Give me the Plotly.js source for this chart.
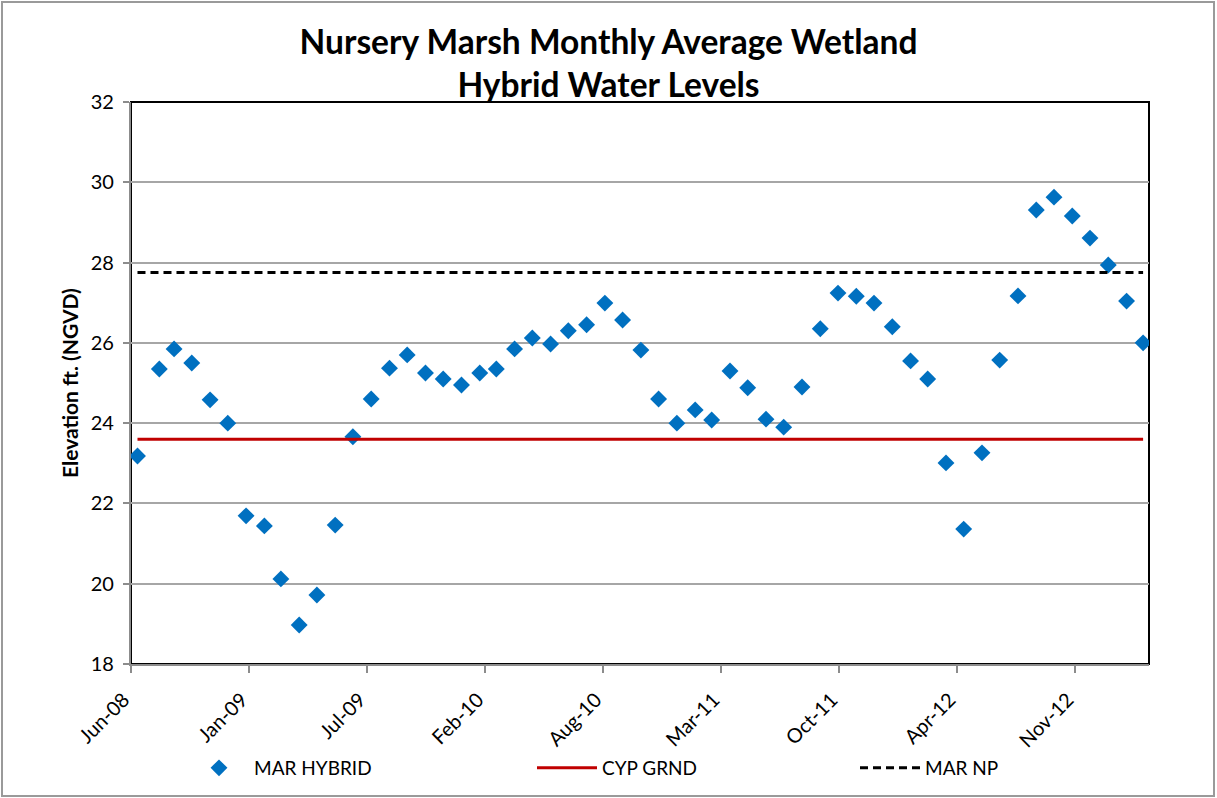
<!DOCTYPE html>
<html>
<head>
<meta charset="utf-8">
<script src="https://cdn.plot.ly/plotly-3.0.1.min.js"></script>
<style>
  body { margin: 0; background: #fff; }
  #chart { width: 1217px; height: 798px; }
</style>
</head>
<body>
<div id="chart"></div>
<script>
// monthly sample dates (first two are irregular in the source sheet)
const dates = [
  '2008-07-01', '2008-08-07', '2008-09-01', '2008-10-01', '2008-11-01', '2008-12-01',
  '2009-01-01', '2009-02-01', '2009-03-01', '2009-04-01', '2009-05-01', '2009-06-01',
  '2009-07-01', '2009-08-01', '2009-09-01', '2009-10-01', '2009-11-01', '2009-12-01',
  '2010-01-01', '2010-02-01', '2010-03-01', '2010-04-01', '2010-05-01', '2010-06-01',
  '2010-07-01', '2010-08-01', '2010-09-01', '2010-10-01', '2010-11-01', '2010-12-01',
  '2011-01-01', '2011-02-01', '2011-03-01', '2011-04-01', '2011-05-01', '2011-06-01',
  '2011-07-01', '2011-08-01', '2011-09-01', '2011-10-01', '2011-11-01', '2011-12-01',
  '2012-01-01', '2012-02-01', '2012-03-01', '2012-04-01', '2012-05-01', '2012-06-01',
  '2012-07-01', '2012-08-01', '2012-09-01', '2012-10-01', '2012-11-01', '2012-12-01',
  '2013-01-01', '2013-02-01', '2013-03-01'
];

const marHybrid = [
  23.18, 25.35, 25.85, 25.50, 24.58, 24.00, 21.69, 21.44, 20.12, 18.97,
  19.72, 21.46, 23.66, 24.60, 25.37, 25.70, 25.25, 25.10, 24.95, 25.25,
  25.35, 25.85, 26.12, 25.97, 26.30, 26.45, 26.99, 26.57, 25.82, 24.60,
  24.00, 24.33, 24.08, 25.30, 24.88, 24.10, 23.90, 24.90, 26.35, 27.24,
  27.16, 26.99, 26.40, 25.55, 25.10, 23.01, 21.36, 23.26, 25.57, 27.17,
  29.31, 29.63, 29.16, 28.61, 27.94, 27.04, 26.00
];

const CYP_GRND = 23.6;
const MAR_NP = 27.75;

const FONT = 'Lato, "Open Sans", sans-serif';
const DAY = 86400000;
const W = 1217, H = 798;
const NBSP = '\u00A0';

const traces = [
  {
    x: dates,
    y: marHybrid,
    type: 'scatter',
    mode: 'markers',
    name: 'MAR HYBRID',
    legend: 'legend',
    marker: { symbol: 'diamond', size: 13, color: '#0070C0' }
  },
  {
    x: dates,
    y: dates.map(() => CYP_GRND),
    type: 'scatter',
    mode: 'lines',
    name: 'CYP GRND',
    legend: 'legend2',
    line: { color: '#C00000', width: 3 }
  },
  {
    x: dates,
    y: dates.map(() => MAR_NP),
    type: 'scatter',
    mode: 'lines',
    name: 'MAR NP',
    legend: 'legend3',
    line: { color: '#000000', width: 3, dash: '8px,5px' }
  }
];

const m = { l: 131, r: 68, t: 102, b: 134, autoexpand: false };
const pw = W - m.l - m.r;
const ph = H - m.t - m.b;

function legendAt(px) {
  return {
    xref: 'container', yref: 'container',
    x: px / W, xanchor: 'left',
    y: 1 - 768 / H, yanchor: 'middle',
    itemwidth: 60,
    font: { family: FONT, size: 19, color: '#000000' },
    bgcolor: 'rgba(0,0,0,0)'
  };
}

const layout = {
  width: W,
  height: H,
  margin: m,
  paper_bgcolor: '#ffffff',
  plot_bgcolor: '#ffffff',
  font: { family: FONT, color: '#000000', size: 19 },
  title: {
    text: '<b>Nursery Marsh Monthly Average Wetland<br>Hybrid Water Levels</b>',
    font: { family: FONT, size: 33.5, color: '#000000' },
    x: 0.5,
    xref: 'container',
    xanchor: 'center',
    yref: 'container',
    y: 1 - 53.5 / H,
    yanchor: 'middle'
  },
  xaxis: {
    type: 'date',
    range: ['2008-06-20', '2013-03-11'],
    tick0: '2008-06-20',
    dtick: 200 * DAY,
    tickformat: '%b-%y',
    ticksuffix: NBSP + NBSP,
    tickangle: -45,
    tickfont: { family: FONT, size: 20, color: '#000000' },
    ticks: 'outside',
    ticklen: 7,
    tickwidth: 2,
    tickcolor: '#8c8c8c',
    showgrid: false,
    showline: true,
    linecolor: '#8c8c8c',
    linewidth: 2,
    zeroline: false,
    fixedrange: true
  },
  yaxis: {
    range: [18, 32],
    dtick: 2,
    ticksuffix: NBSP,
    tickfont: { family: FONT, size: 20, color: '#000000' },
    ticks: 'outside',
    ticklen: 6,
    tickwidth: 2,
    tickcolor: '#8c8c8c',
    showgrid: true,
    gridcolor: '#a6a6a6',
    gridwidth: 2,
    showline: true,
    linecolor: '#8c8c8c',
    linewidth: 2,
    zeroline: false,
    fixedrange: true
  },
  annotations: [
    {
      text: '<b>Elevation ft. (NGVD)</b>',
      xref: 'paper', yref: 'paper',
      x: -62 / pw, y: 0.5,
      xanchor: 'center', yanchor: 'middle',
      textangle: -90,
      showarrow: false,
      font: { family: FONT, size: 21, color: '#000000' }
    }
  ],
  legend: legendAt(184),
  legend2: legendAt(532),
  legend3: legendAt(855),
  showlegend: true,
  shapes: [
    // plot area frame
    {
      type: 'rect', xref: 'paper', yref: 'paper',
      x0: 0, x1: 1, y0: 0, y1: 1,
      line: { color: '#000000', width: 2 },
      layer: 'below'
    },
    // chart outer border
    {
      type: 'rect', xref: 'paper', yref: 'paper',
      x0: -(m.l - 2) / pw, x1: 1 + (m.r - 3) / pw,
      y0: -(m.b - 2) / ph, y1: 1 + (m.t - 2) / ph,
      line: { color: '#9a9a9a', width: 2 },
      layer: 'below'
    }
  ]
};

Plotly.newPlot('chart', traces, layout, { displayModeBar: false, staticPlot: true });
</script>
</body>
</html>
